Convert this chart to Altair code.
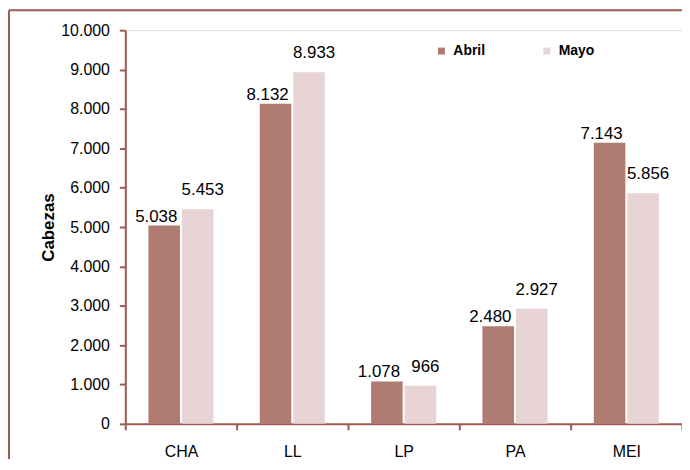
import altair as alt
import pandas as pd

categories = ["CHA", "LL", "LP", "PA", "MEI"]
series = ["Abril", "Mayo"]
abril = [5038, 8132, 1078, 2480, 7143]
mayo = [5453, 8933, 966, 2927, 5856]
colors = ["#B07B71", "#E8D4D4"]
y_ticks = [0, 1000, 2000, 3000, 4000, 5000, 6000, 7000, 8000, 9000, 10000]

rows = []
for c, a, m in zip(categories, abril, mayo):
    rows.append({"cat": c, "serie": "Abril", "val": a})
    rows.append({"cat": c, "serie": "Mayo", "val": m})
df = pd.DataFrame(rows)
df["label"] = df["val"].apply(lambda v: f"{v:,}".replace(",", "."))

FONT = "Liberation Sans"
BROWN = "#9C5B52"
W, H = 560, 396

x_axis = alt.Axis(title=None, labelAngle=0, labelFontSize=16, labelColor="black",
                  labelFont=FONT, labelPadding=14, domainColor=BROWN, domainWidth=2,
                  tickColor=BROWN, tickWidth=2, tickSize=6, tickBand="extent")
y_axis = alt.Axis(title="Cabezas", values=y_ticks, grid=False,
                  labelOverlap=False,
                  labelExpr="replace(format(datum.value, ',d'), ',', '.')",
                  labelFontSize=16, labelColor="black", labelFont=FONT, labelPadding=10,
                  titleFont=FONT, titleFontSize=17, titleFontWeight="bold", titleColor="black",
                  titlePadding=3,
                  domainColor=BROWN, domainWidth=2, tickColor=BROWN, tickWidth=2, tickSize=6)
x_scale = alt.Scale(paddingInner=0, paddingOuter=0)
xo_scale = alt.Scale(paddingInner=0.0588, paddingOuter=0.69)
y_scale = alt.Scale(domain=[0, 10000], nice=False, zero=True)


def x_enc():
    return alt.X("cat:N", sort=categories, scale=x_scale, axis=x_axis)


def xo_enc():
    return alt.XOffset("serie:N", sort=series, scale=xo_scale)


def y_enc():
    return alt.Y("val:Q", scale=y_scale, axis=y_axis)


bars = alt.Chart(df).mark_bar().encode(
    x=x_enc(), xOffset=xo_enc(), y=y_enc(),
    color=alt.Color("serie:N", sort=series,
                    scale=alt.Scale(domain=series, range=colors),
                    legend=alt.Legend(title=None, orient="none", legendX=311, legendY=14,
                                      direction="horizontal", symbolType="square", symbolSize=49,
                                      symbolStrokeWidth=0, labelFont=FONT, labelFontSize=14,
                                      labelFontWeight="bold", labelColor="black",
                                      columnPadding=55, padding=0, labelOffset=5)),
)


def label_layer(name, dx, dy):
    return alt.Chart(df).transform_filter(alt.datum.serie == name).mark_text(
        baseline="alphabetic", align="center", dx=dx, dy=dy, fontSize=17,
        font=FONT, color="black").encode(
        x=x_enc(), xOffset=xo_enc(), y=y_enc(), text="label:N")


labels_a = label_layer("Abril", -8, -4)
labels_m = label_layer("Mayo", 5, -14)

frame_v = alt.Chart(pd.DataFrame({"a": [0]})).mark_rule(color=BROWN, strokeWidth=2).encode(
    x=alt.value(-117), y=alt.value(-20), y2=alt.value(H + 40))
frame_h = alt.Chart(pd.DataFrame({"a": [0]})).mark_rule(color=BROWN, strokeWidth=2).encode(
    x=alt.value(-117), x2=alt.value(W), y=alt.value(-20))

chart = alt.layer(bars, labels_a, labels_m, frame_v, frame_h).properties(
    width=W, height=H,
    padding={"left": 118, "top": 21, "right": 0, "bottom": 34},
    autosize=alt.AutoSizeParams(type="none"),
).configure_view(stroke=None).configure_axisY(labelOverlap=False).configure(background="white")

chart.save("out.html", embed_options={"renderer": "svg", "actions": False})
